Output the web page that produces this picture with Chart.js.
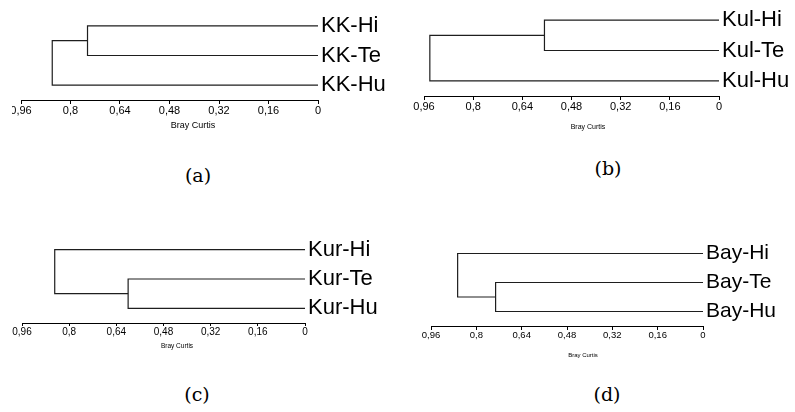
<!DOCTYPE html>
<html>
<head>
<meta charset="utf-8">
<script src="https://cdn.jsdelivr.net/npm/chart.js@4.4.1/dist/chart.umd.min.js"></script>
<style>
  body { margin: 0; background: #fff; }
  #hoja { position: relative; width: 795px; height: 412px; overflow: hidden; background: #fff; }
  .corte { position: absolute; overflow: hidden; }
  .corte canvas { position: absolute; top: 0; }
  .letra { position: absolute; width: 60px; text-align: center; font: 19px "DejaVu Serif", serif; line-height: 22px; color: #000; }
</style>
</head>
<body>
<div id="hoja"></div>
<script>
// hojas de cada dendrograma (de arriba a abajo)
const hojasA = ["KK-Hi", "KK-Te", "KK-Hu"];
const hojasB = ["Kul-Hi", "Kul-Te", "Kul-Hu"];
const hojasC = ["Kur-Hi", "Kur-Te", "Kur-Hu"];
const hojasD = ["Bay-Hi", "Bay-Te", "Bay-Hu"];
// primer par que se une, y distancias Bray Curtis de las dos uniones
const parA = [0, 1];
const alturasA = [0.745, 0.859];
const parB = [0, 1];
const alturasB = [0.568, 0.941];
const parC = [1, 2];
const alturasC = [0.6, 0.849];
const parD = [1, 2];
const alturasD = [0.732, 0.866];
// marcas del eje
const marcasX = [0.96, 0.8, 0.64, 0.48, 0.32, 0.16, 0];
const tituloX = "Bray Curtis";
const letras = ["(a)", "(b)", "(c)", "(d)"];

const fuente = '"Liberation Sans", Arial, sans-serif';

// posiciones de cada panel (no son datos)
const paneles = [
  { hojas: hojasA, par: parA, alturas: alturasA, izq: 0, arriba: 0, ancho: 400, alto: 140, corte: 12,
    area: [21, 11, 318, 100], fTick: 11, fHoja: 22, fTit: 9, tit: [193, 126], tl: 4, letra: [198, 176] },
  { hojas: hojasB, par: parB, alturas: alturasB, izq: 400, arriba: 0, ancho: 395, alto: 140, corte: 12,
    area: [24, 5, 319, 96], fTick: 11, fHoja: 22, fTit: 7, tit: [188, 127], tl: 4, letra: [608, 169] },
  { hojas: hojasC, par: parC, alturas: alturasC, izq: 0, arriba: 220, ancho: 400, alto: 140, corte: 12,
    area: [22, 15, 305, 103], fTick: 10, fHoja: 22, fTit: 6.5, tit: [177, 126], tl: 3, letra: [197, 395] },
  { hojas: hojasD, par: parD, alturas: alturasD, izq: 400, arriba: 220, ancho: 395, alto: 140, corte: 21,
    area: [31, 19, 303, 106], fTick: 9.5, fHoja: 21, fTit: 6, tit: [183, 135], tl: 4, letra: [607, 395] },
];

//arma las ramas del arbol a partir del par y las alturas
const ramas = (par, alturas) => {
  const [i, j] = par;
  const k = [0, 1, 2].find((n) => !par.includes(n));
  const [h1, h2] = alturas;
  const medio = (i + j) / 2;
  return [
    [{ x: 0, y: i }, { x: h1, y: i }, { x: h1, y: j }, { x: 0, y: j }],
    [{ x: h1, y: medio }, { x: h2, y: medio }, { x: h2, y: k }, { x: 0, y: k }],
  ];
};

//titulo del eje un poco corrido a la derecha, como en el original
const tituloEje = {
  id: "tituloEje",
  afterDraw(chart, args, opts) {
    const c = chart.ctx;
    c.save();
    c.font = `${opts.size}px ${fuente}`;
    c.fillStyle = "#000";
    c.textAlign = "center";
    c.textBaseline = "middle";
    c.fillText(opts.text, opts.x, opts.y);
    c.restore();
  },
};

const hoja = document.getElementById("hoja");

paneles.forEach((p, n) => {
  const caja = document.createElement("div");
  caja.className = "corte";
  caja.style.left = p.izq + p.corte + "px";
  caja.style.top = p.arriba + "px";
  caja.style.width = p.ancho - p.corte + "px";
  caja.style.height = p.alto + "px";
  const lienzo = document.createElement("canvas");
  lienzo.width = p.ancho;
  lienzo.height = p.alto;
  lienzo.style.left = -p.corte + "px";
  lienzo.style.width = p.ancho + "px";
  lienzo.style.height = p.alto + "px";
  caja.appendChild(lienzo);
  hoja.appendChild(caja);

  const datasets = ramas(p.par, p.alturas).map((r) => ({
    data: r,
    showLine: true,
    borderColor: "#1e1e1e",
    borderWidth: 1.2,
    pointRadius: 0,
    tension: 0,
  }));

  new Chart(lienzo, {
    type: "scatter",
    data: { datasets },
    plugins: [tituloEje],
    options: {
      responsive: false,
      animation: false,
      devicePixelRatio: 1,
      layout: { autoPadding: false, padding: { left: p.area[0], top: p.area[1], right: 0, bottom: 0 } },
      plugins: {
        legend: { display: false },
        tooltip: { enabled: false },
        tituloEje: { text: tituloX, x: p.tit[0], y: p.tit[1], size: p.fTit },
      },
      scales: {
        x: {
          type: "linear",
          reverse: true,
          min: 0,
          max: 0.96,
          afterBuildTicks: (s) => {
            s.ticks = marcasX.map((v) => ({ value: v }));
          },
          afterFit: (s) => {
            s.height = p.alto - p.area[3];
            s.paddingLeft = 0;
            s.paddingRight = 0;
          },
          ticks: {
            callback: (v) => String(+v.toFixed(2)).replace(".", ","),
            color: "#000",
            font: { size: p.fTick, family: fuente },
            padding: 0,
            maxRotation: 0,
            autoSkip: false,
          },
          grid: { drawOnChartArea: false, tickLength: p.tl, color: "#000" },
          border: { color: "#000", width: 1 },
        },
        y: {
          type: "linear",
          position: "right",
          reverse: true,
          min: -0.5,
          max: 2.5,
          afterBuildTicks: (s) => {
            s.ticks = p.hojas.map((h, i) => ({ value: i }));
          },
          afterFit: (s) => {
            s.width = p.ancho - p.area[2];
            s.paddingTop = 0;
            s.paddingBottom = 0;
          },
          ticks: {
            callback: (v) => p.hojas[v],
            color: "#000",
            font: { size: p.fHoja, family: fuente },
            padding: 3,
            autoSkip: false,
          },
          grid: { display: false, drawTicks: false },
          border: { display: false },
        },
      },
    },
  });

  //letra del panel
  const l = document.createElement("div");
  l.className = "letra";
  l.textContent = letras[n];
  l.style.left = p.letra[0] - 30 + "px";
  l.style.top = p.letra[1] - 12 + "px";
  hoja.appendChild(l);
});
</script>
</body>
</html>
